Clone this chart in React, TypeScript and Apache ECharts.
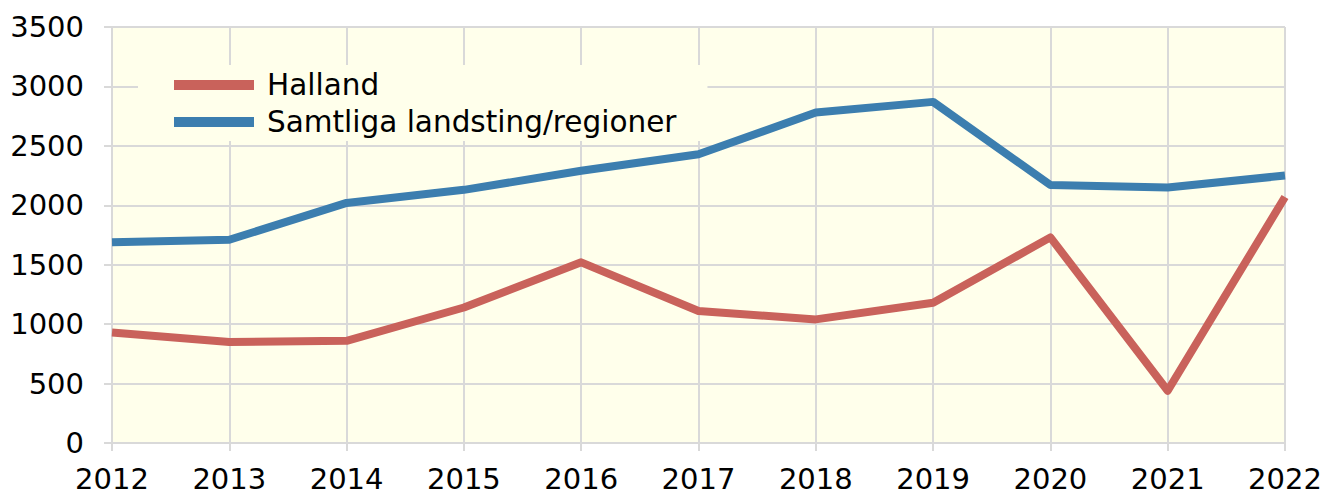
import React, { useEffect, useRef } from "react";
import * as echarts from "echarts";

const years = ["2012", "2013", "2014", "2015", "2016", "2017", "2018", "2019", "2020", "2021", "2022"];
const halland = [930, 850, 860, 1140, 1520, 1110, 1040, 1180, 1730, 440, 2070];
const samtliga = [1690, 1710, 2020, 2130, 2290, 2430, 2780, 2870, 2170, 2150, 2250];

const FONT = "DejaVu Sans";
const GRID = "#D9D9D9";
const BG = "#FFFFEB";
const FS = 29;

export default function App() {
  const ref = useRef<HTMLDivElement>(null);
  useEffect(() => {
    const chart = echarts.init(ref.current!, null, { renderer: "svg" });
    chart.setOption({
      animation: false,
      textStyle: { fontFamily: FONT },
      grid: {
        left: 112,
        right: 49,
        top: 27,
        bottom: 56,
        show: true,
        backgroundColor: BG,
        borderWidth: 0,
      },
      legend: {
        orient: "vertical",
        left: 138,
        top: 65,
        padding: [5, 31, 4, 36],
        itemGap: 7,
        itemWidth: 80,
        itemHeight: 10,
        icon: "rect",
        backgroundColor: BG,
        textStyle: { fontFamily: FONT, fontSize: 29.5, color: "#000", padding: [0, 0, 0, 8] },
        data: ["Halland", "Samtliga landsting/regioner"],
      },
      xAxis: {
        type: "category",
        data: years,
        boundaryGap: false,
        axisLine: { show: true, lineStyle: { color: GRID, width: 2 } },
        axisTick: { show: true, length: 8, alignWithLabel: true, lineStyle: { color: GRID, width: 2 } },
        axisLabel: { fontFamily: FONT, fontSize: FS, color: "#000", margin: 21 },
        splitLine: { show: true, lineStyle: { color: GRID, width: 2 } },
      },
      yAxis: {
        type: "value",
        min: 0,
        max: 3500,
        interval: 500,
        axisLine: { show: true, lineStyle: { color: GRID, width: 2 } },
        axisTick: { show: true, length: 8, lineStyle: { color: GRID, width: 2 } },
        axisLabel: {
          fontFamily: FONT,
          fontSize: FS,
          color: "#000",
          margin: 28,
          formatter: (v: number) => String(v),
        },
        splitLine: { show: true, lineStyle: { color: GRID, width: 2 } },
      },
      series: [
        {
          name: "Halland",
          type: "line",
          data: halland,
          showSymbol: false,
          symbol: "none",
          itemStyle: { color: "#C9625B" },
          lineStyle: { color: "#C9625B", width: 8, join: "round", cap: "butt" },
        },
        {
          name: "Samtliga landsting/regioner",
          type: "line",
          data: samtliga,
          showSymbol: false,
          symbol: "none",
          itemStyle: { color: "#3C7EAF" },
          lineStyle: { color: "#3C7EAF", width: 8, join: "round", cap: "butt" },
        },
      ],
    });
    return () => chart.dispose();
  }, []);
  return (
    <div
      ref={ref}
      style={{ position: "absolute", left: 0, top: 0, width: 1334, height: 499 }}
    />
  );
}
